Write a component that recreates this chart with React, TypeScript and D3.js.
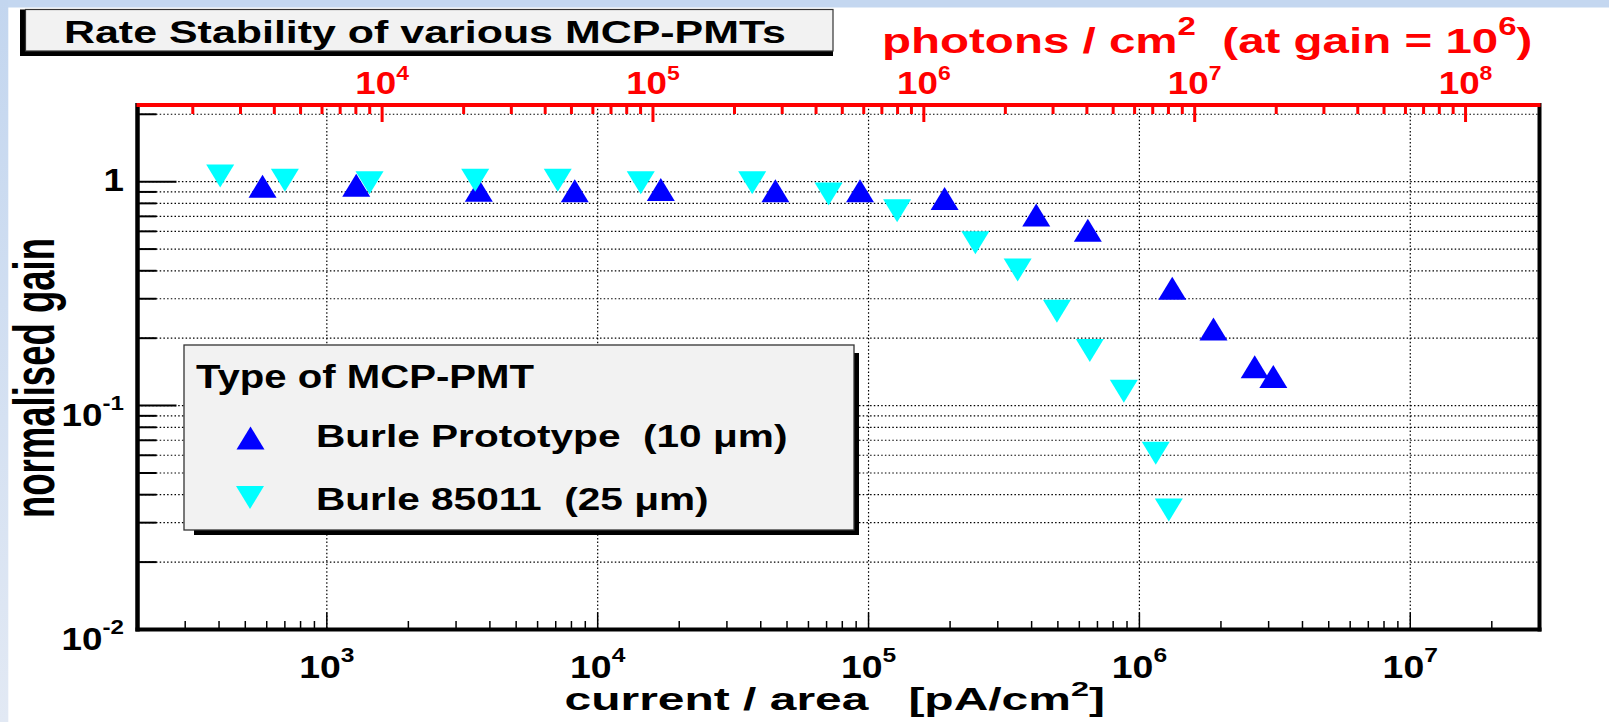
import React from 'react';
import * as d3 from 'd3';

const W = 1609;
const H = 722;

// axis domains
const X_DOMAIN: [number, number] = [200, 3e7];
const Y_DOMAIN: [number, number] = [0.01, 2.2];
const PHOTON_FACTOR = 6.25; // photons/cm^2 per pA/cm^2 at gain 1e6

// Burle Prototype (10 um) – blue up triangles
const protoX = [579, 1284, 3640, 8230, 17100, 45300, 93000, 190900, 416000, 645000, 1.322e6, 1.877e6, 2.665e6, 3.122e6];
const protoY = [0.955, 0.965, 0.916, 0.91, 0.923, 0.91, 0.91, 0.841, 0.709, 0.607, 0.334, 0.22, 0.149, 0.135];

// Burle 85011 (25 um) – cyan down triangles
const b85X = [404, 700, 1438, 3530, 7120, 14420, 37190, 71200, 127500, 248000, 355200, 496000, 656000, 876000, 1.149e6, 1.284e6];
const b85Y = [1.06, 1.015, 0.988, 1.015, 1.015, 0.988, 0.988, 0.88, 0.741, 0.533, 0.403, 0.264, 0.176, 0.116, 0.0612, 0.0342];

const bottomLabelExps = ['3', '4', '5', '6', '7'];
const topLabelExps = ['4', '5', '6', '7', '8'];
const leftLabels = [
  { v: 1, base: '1', exp: '' },
  { v: 0.1, base: '10', exp: '-1' },
  { v: 0.01, base: '10', exp: '-2' },
];

const FONT = "'Liberation Sans', Arial, Helvetica, sans-serif";

function logTicks(d0: number, d1: number) {
  const out: { v: number; major: boolean }[] = [];
  for (let e = Math.floor(Math.log10(d0)); e <= Math.ceil(Math.log10(d1)); e++) {
    for (let k = 1; k <= 9; k++) {
      const v = k * Math.pow(10, e);
      if (v >= d0 * 0.9999 && v <= d1 * 1.0001) out.push({ v, major: k === 1 });
    }
  }
  return out;
}

const upTri = (cx: number, cy: number) =>
  `M${cx - 14},${cy + 11.5}L${cx + 14},${cy + 11.5}L${cx},${cy - 11.5}Z`;
const downTri = (cx: number, cy: number) =>
  `M${cx - 14},${cy - 11.5}L${cx + 14},${cy - 11.5}L${cx},${cy + 11.5}Z`;

export default function App() {
  const L = 137.5, R = 1539.5, T = 105, B = 629.5;
  const x = d3.scaleLog().domain(X_DOMAIN).range([L, R]);
  const xTop = d3
    .scaleLog()
    .domain([X_DOMAIN[0] * PHOTON_FACTOR, X_DOMAIN[1] * PHOTON_FACTOR])
    .range([L, R]);
  const y = d3.scaleLog().domain(Y_DOMAIN).range([B, T]);

  const xTicks = logTicks(X_DOMAIN[0], X_DOMAIN[1]);
  const xTopTicks = logTicks(X_DOMAIN[0] * PHOTON_FACTOR, X_DOMAIN[1] * PHOTON_FACTOR);
  const yTicks = logTicks(Y_DOMAIN[0], Y_DOMAIN[1]);

  const dotted = { stroke: '#000', strokeWidth: 1.2, strokeDasharray: '1.5 2.2' };

  return (
    <svg
      width={W}
      height={H}
      style={{ position: 'absolute', left: 0, top: 0, display: 'block', background: '#fff' }}
    >
      <defs>
        <linearGradient id="leftStrip" x1="0" y1="0" x2="0" y2="1">
          <stop offset="0" stopColor="#c3d6ef" />
          <stop offset="1" stopColor="#e2e9f4" />
        </linearGradient>
      </defs>
      <rect x={0} y={0} width={W} height={H} fill="#fff" />
      {/* slide decoration strips */}
      <rect x={0} y={0} width={W} height={7.5} fill="#c4d7f0" />
      <rect x={0} y={0} width={8.3} height={H} fill="url(#leftStrip)" />

      {/* grid */}
      {yTicks.map((t, i) => (
        <line key={'gy' + i} x1={L} x2={R} y1={y(t.v)} y2={y(t.v)} {...dotted} />
      ))}
      {xTicks.filter(t => t.major).map((t, i) => (
        <line key={'gx' + i} x1={x(t.v)} x2={x(t.v)} y1={T} y2={B} {...dotted} />
      ))}

      {/* bottom ticks */}
      {xTicks.map((t, i) => (
        <line key={'bt' + i} x1={x(t.v)} x2={x(t.v)} y1={B} y2={B - (t.major ? 17 : 8.5)} stroke="#000" strokeWidth={1.5} />
      ))}
      {/* left ticks */}
      {yTicks.map((t, i) => (
        <line key={'lt' + i} x1={L} x2={L + (t.major ? 39 : 19)} y1={y(t.v)} y2={y(t.v)} stroke="#000" strokeWidth={2} />
      ))}

      {/* frame */}
      <line x1={L} x2={L} y1={T - 2} y2={B + 2} stroke="#000" strokeWidth={4.5} />
      <line x1={L - 2} x2={R + 2} y1={B} y2={B} stroke="#000" strokeWidth={4} />
      <line x1={R} x2={R} y1={T - 2} y2={B + 2} stroke="#000" strokeWidth={4} />

      {/* top red axis */}
      {xTopTicks.map((t, i) => (
        <line key={'tt' + i} x1={xTop(t.v)} x2={xTop(t.v)} y1={T} y2={T + (t.major ? 17 : 9)} stroke="#ff0000" strokeWidth={3} />
      ))}
      <line x1={L - 1} x2={R + 1} y1={T} y2={T} stroke="#ff0000" strokeWidth={4} />

      {/* bottom tick labels */}
      {bottomLabelExps.map(e => (
        <text
          key={'bl' + e}
          transform={`translate(${x(Math.pow(10, +e))},678) scale(1.17,1)`}
          textAnchor="middle"
          fontFamily={FONT}
          fontWeight="bold"
          fontSize={32}
          fill="#000"
        >
          <tspan>10</tspan>
          <tspan dy={-16.5} fontSize={21}>{e}</tspan>
        </text>
      ))}

      {/* top tick labels */}
      {topLabelExps.map(e => (
        <text
          key={'tl' + e}
          transform={`translate(${xTop(Math.pow(10, +e))},93.5) scale(1.15,1)`}
          textAnchor="middle"
          fontFamily={FONT}
          fontWeight="bold"
          fontSize={32}
          fill="#ff0000"
        >
          <tspan>10</tspan>
          <tspan dy={-13.5} fontSize={20}>{e}</tspan>
        </text>
      ))}

      {/* left tick labels */}
      {leftLabels.map(l => (
        <text
          key={'ll' + l.v}
          transform={`translate(124,${y(l.v) + (l.exp ? 20 : 9.5)}) scale(1.15,1)`}
          textAnchor="end"
          fontFamily={FONT}
          fontWeight="bold"
          fontSize={32}
          fill="#000"
        >
          <tspan>{l.base}</tspan>
          {l.exp ? <tspan dy={-15.5} fontSize={21}>{l.exp}</tspan> : null}
        </text>
      ))}

      {/* axis titles */}
      <text
        transform="translate(564.5,710) scale(1.548,1)"
        fontFamily={FONT}
        fontWeight="bold"
        fontSize={31}
        fill="#000"
        style={{ whiteSpace: 'pre' }}
      >
        <tspan>{'current / area   [pA/cm'}</tspan>
        <tspan dy={-14} fontSize={21}>2</tspan>
        <tspan dy={14}>]</tspan>
      </text>
      <text
        transform="translate(54,378) rotate(-90) scale(0.63,1)"
        textAnchor="middle"
        fontFamily={FONT}
        fontWeight="bold"
        fontSize={58}
        fill="#000"
      >
        normalised gain
      </text>
      <text
        transform="translate(882,53) scale(1.32,1)"
        fontFamily={FONT}
        fontWeight="bold"
        fontSize={36}
        fill="#ff0000"
        style={{ whiteSpace: 'pre' }}
      >
        <tspan>{'photons / cm'}</tspan>
        <tspan dy={-18} fontSize={25}>2</tspan>
        <tspan dy={18}>{'  (at gain = 10'}</tspan>
        <tspan dy={-18} fontSize={25}>6</tspan>
        <tspan dy={18}>)</tspan>
      </text>

      {/* data markers */}
      {protoX.map((v, i) => (
        <path key={'p' + i} d={upTri(x(v), y(protoY[i]))} fill="#0000ff" />
      ))}
      {b85X.map((v, i) => (
        <path key={'c' + i} d={downTri(x(v), y(b85Y[i]))} fill="#00ffff" />
      ))}

      {/* legend */}
      <rect x={194} y={353} width={665} height={182} fill="#000" />
      <rect x={184} y={345} width={670} height={185} fill="#f2f2f2" stroke="#333" strokeWidth={1.3} />
      <text
        transform="translate(196,387.7) scale(1.18,1)"
        fontFamily={FONT}
        fontWeight="bold"
        fontSize={34}
        fill="#000"
      >
        Type of MCP-PMT
      </text>
      <path d={upTri(250.5, 438)} fill="#0000ff" />
      <text
        transform="translate(316,446.7) scale(1.31,1)"
        fontFamily={FONT}
        fontWeight="bold"
        fontSize={31}
        fill="#000"
        style={{ whiteSpace: 'pre' }}
      >
        {'Burle Prototype  (10 μm)'}
      </text>
      <path d={downTri(250, 497.5)} fill="#00ffff" />
      <text
        transform="translate(316,510) scale(1.31,1)"
        fontFamily={FONT}
        fontWeight="bold"
        fontSize={31}
        fill="#000"
        style={{ whiteSpace: 'pre' }}
      >
        {'Burle 85011  (25 μm)'}
      </text>

      {/* title box */}
      <rect x={20} y={9.5} width={813} height={46.5} fill="#000" />
      <rect x={25.5} y={9.5} width={807.5} height={41.5} fill="#f2f2f2" stroke="#333" strokeWidth={1.2} />
      <text
        transform="translate(64,42.5) scale(1.385,1)"
        fontFamily={FONT}
        fontWeight="bold"
        fontSize={31}
        fill="#000"
      >
        Rate Stability of various MCP-PMTs
      </text>
    </svg>
  );
}
